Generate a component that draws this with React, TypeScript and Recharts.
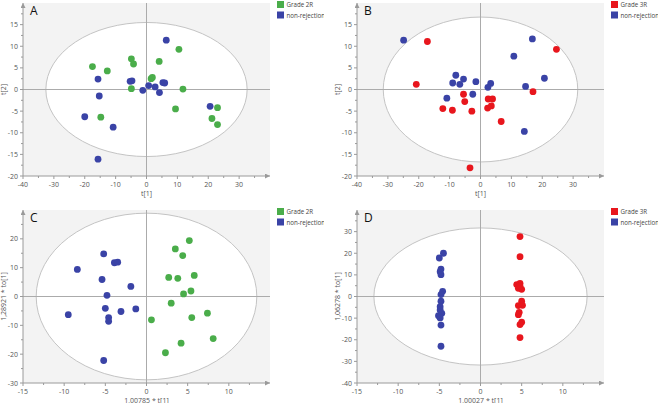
import { ScatterChart, Scatter, XAxis, YAxis, ReferenceArea, ReferenceLine } from "recharts";

const GREEN = "#4aad4a";
const BLUE = "#3a43a6";
const RED = "#e8161d";
const AXIS = "#9a9a9a";
const TICK_TEXT = "#555";
const FONT = "'Open Sans', 'Noto Sans', sans-serif";

// A: Grade 2R vs non-rejection (PCA scores)
const A_G2R_X = [-17.5, -12.7, -4.9, -4.2, 4.1, 10.5, 1.5, 1.9, -4.9, 11.8, 9.4, 23.0, 21.2, 23.0, -14.8];
const A_G2R_Y = [5.3, 4.3, 7.1, 5.9, 6.5, 9.3, 2.5, 2.8, 0.2, 0.1, -4.5, -4.2, -6.7, -8.1, -6.4];
const A_NR_X = [6.4, -15.7, -5.3, -4.7, -15.3, -20.0, -10.8, -15.7, -1.2, 0.7, 2.8, 4.2, 5.3, 5.9, 20.6];
const A_NR_Y = [11.4, 2.4, 1.9, 2.0, -1.5, -6.3, -8.7, -16.1, -0.2, 0.9, 0.6, -0.7, 1.6, 1.5, -3.9];

// B: Grade 3R vs non-rejection (PCA scores)
const B_G3R_X = [-17.2, 24.6, -20.8, 17.0, -5.5, -5.1, -12.2, -9.1, -2.8, 2.5, 3.9, 2.3, 3.5, 6.7, -3.4];
const B_G3R_Y = [11.1, 9.3, 1.2, -0.5, -1.1, -2.8, -4.4, -4.8, -5.0, -2.2, -2.2, -4.3, -3.8, -7.4, -18.1];
const B_NR_X = [-24.9, 16.8, 10.8, 20.7, 14.6, -8.0, -9.0, -5.5, -6.7, -1.5, 3.3, 2.4, -10.9, -2.5, 14.2];
const B_NR_Y = [11.4, 11.7, 7.7, 2.6, 0.7, 3.3, 1.5, 2.4, 1.2, 1.8, 1.4, 0.5, -2.0, -1.1, -9.7];

// C: Grade 2R vs non-rejection (OPLS-DA scores)
const C_G2R_X = [5.2, 3.5, 4.4, 2.7, 3.8, 5.8, 5.4, 4.5, 3.0, 0.6, 5.5, 7.4, 8.1, 4.2, 2.3];
const C_G2R_Y = [19.4, 16.5, 14.2, 6.6, 6.3, 7.3, 1.9, 0.9, -2.3, -8.1, -7.3, -5.8, -14.6, -16.2, -19.5];
const C_NR_X = [-5.2, -3.9, -3.5, -8.4, -5.4, -1.9, -4.8, -5.0, -3.1, -1.3, -9.5, -4.6, -4.6, -5.2];
const C_NR_Y = [14.8, 11.7, 11.9, 9.4, 5.9, 3.5, 0.4, -4.1, -5.2, -4.3, -6.3, -7.3, -8.6, -22.2];

// D: Grade 3R vs non-rejection (OPLS-DA scores)
const D_G3R_X = [4.8, 4.8, 4.4, 4.8, 4.6, 5.0, 5.0, 5.1, 4.6, 4.7, 4.6, 5.0, 4.8, 4.8, 4.8];
const D_G3R_Y = [27.7, 18.4, 5.5, 6.1, 3.8, 3.3, -2.2, -4.1, -4.2, -7.3, -8.4, -11.9, -13.0, -19.0, 4.8];
const D_NR_X = [-4.5, -5.0, -4.8, -4.9, -4.8, -4.6, -4.8, -4.8, -4.9, -4.7, -5.1, -4.9, -4.8, -4.8, -4.9];
const D_NR_Y = [20.0, 17.8, 12.7, 11.5, 10.1, 2.4, 0.9, -2.2, -4.7, -7.8, -8.9, -9.9, -13.2, -23.0, -6.2];

// ticks (major = labelled)
const T40_TICKS = [-40, -35, -30, -25, -20, -15, -10, -5, 0, 5, 10, 15, 20, 25, 30, 35];
const T40_MAJOR = [-40, -30, -20, -10, 0, 10, 20, 30];
const T20_TICKS = [-20, -17.5, -15, -12.5, -10, -7.5, -5, -2.5, 0, 2.5, 5, 7.5, 10, 12.5, 15, 17.5];
const T20_MAJOR = [-20, -15, -10, -5, 0, 5, 10, 15];
const T15_TICKS = [-15, -12.5, -10, -7.5, -5, -2.5, 0, 2.5, 5, 7.5, 10, 12.5];
const T15_MAJOR = [-15, -10, -5, 0, 5, 10];
const C_Y_TICKS = [-30, -25, -20, -15, -10, -5, 0, 5, 10, 15, 20, 25];
const C_Y_MAJOR = [-30, -20, -10, 0, 10, 20];
const D_Y_TICKS = [-40, -35, -30, -25, -20, -15, -10, -5, 0, 5, 10, 15, 20, 25, 30, 35];
const D_Y_MAJOR = [-40, -30, -20, -10, 0, 10, 20, 30];

const zip = (xs: number[], ys: number[]) => xs.map((x, i) => ({ x, y: ys[i] }));

const dot = (color: string) => (p: any) => <circle cx={p.cx} cy={p.cy} r={3.4} fill={color} />;

function XTick(props: any) {
  const { x, y, payload, majors } = props;
  const major = majors.includes(payload.value);
  return (
    <g>
      <line x1={x} x2={x} y1={y} y2={y + (major ? 3 : 2)} stroke={AXIS} />
      {major && (
        <text x={x} y={y + 10.5} textAnchor="middle" fontSize={7} fill={TICK_TEXT} fontFamily={FONT}>
          {payload.value}
        </text>
      )}
    </g>
  );
}

function YTick(props: any) {
  const { x, y, payload, majors } = props;
  const major = majors.includes(payload.value);
  return (
    <g>
      <line x1={x} x2={x - (major ? 3 : 2)} y1={y} y2={y} stroke={AXIS} />
      {major && (
        <text x={x - 5} y={y + 2.5} textAnchor="end" fontSize={7} fill={TICK_TEXT} fontFamily={FONT}>
          {payload.value}
        </text>
      )}
    </g>
  );
}

type Group = { name: string; color: string; xs: number[]; ys: number[] };

function Panel(props: {
  left: number;
  top: number;
  letter: string;
  xDomain: [number, number];
  yDomain: [number, number];
  xTicks: number[];
  xMajor: number[];
  yTicks: number[];
  yMajor: number[];
  ellipse: [number, number];
  xLabel: string;
  yLabel: string;
  groups: Group[];
}) {
  const { xDomain, yDomain, ellipse } = props;
  return (
    <div style={{ position: "absolute", left: props.left, top: props.top, width: 324, height: 200 }}>
      <ScatterChart width={275} height={200} margin={{ top: 3, right: 5, left: 0, bottom: 0 }}>
        <XAxis
          type="number"
          dataKey="x"
          domain={xDomain}
          allowDataOverflow
          ticks={props.xTicks}
          interval={0}
          tickSize={0}
          tickMargin={0}
          tickLine={false}
          height={24}
          axisLine={{ stroke: AXIS, markerEnd: "url(#axisArrow)" } as any}
          tick={<XTick majors={props.xMajor} />}
        />
        <YAxis
          type="number"
          dataKey="y"
          domain={yDomain}
          allowDataOverflow
          ticks={props.yTicks}
          interval={0}
          tickSize={0}
          tickMargin={0}
          tickLine={false}
          width={23}
          axisLine={{ stroke: AXIS, markerStart: "url(#axisArrow)" } as any}
          tick={<YTick majors={props.yMajor} />}
        />
        <ReferenceArea
          x1={xDomain[0]}
          x2={xDomain[1]}
          y1={yDomain[0]}
          y2={yDomain[1]}
          fill="#f3f3f3"
          fillOpacity={1}
          stroke="none"
        />
        <ReferenceArea
          x1={-ellipse[0]}
          x2={ellipse[0]}
          y1={-ellipse[1]}
          y2={ellipse[1]}
          shape={(p: any) => (
            <ellipse
              cx={p.x + p.width / 2}
              cy={p.y + p.height / 2}
              rx={p.width / 2}
              ry={p.height / 2}
              fill="#ffffff"
              stroke="#c4c4c4"
              strokeWidth={1}
            />
          )}
        />
        <ReferenceLine x={0} stroke="#ababab" strokeWidth={1} />
        <ReferenceLine y={0} stroke="#ababab" strokeWidth={1} />
        {props.groups.map((g) => (
          <Scatter
            key={g.name}
            name={g.name}
            data={zip(g.xs, g.ys)}
            fill={g.color}
            shape={dot(g.color)}
            isAnimationActive={false}
          />
        ))}
      </ScatterChart>
      <svg
        width={324}
        height={200}
        style={{ position: "absolute", left: 0, top: 0, pointerEvents: "none" }}
        fontFamily={FONT}
      >
        <text x={30} y={15} fontSize={12} fill="#111">
          {props.letter}
        </text>
        <text x={146.5} y={195.5} fontSize={7} fill={TICK_TEXT} textAnchor="middle">
          {props.xLabel}
        </text>
        <text
          x={0}
          y={0}
          fontSize={7}
          fill={TICK_TEXT}
          textAnchor="middle"
          transform={`translate(6 89.5) rotate(-90)`}
        >
          {props.yLabel}
        </text>
        {props.groups.map((g, i) => (
          <g key={g.name}>
            <rect x={277} y={1 + i * 10.5} width={7} height={7} fill={g.color} />
            <text x={286.5} y={7.2 + i * 10.5} fontSize={6.2} fill="#444">
              {g.name}
            </text>
          </g>
        ))}
      </svg>
    </div>
  );
}

export default function App() {
  return (
    <div
      style={{
        position: "absolute",
        left: 0,
        top: 0,
        width: 658,
        height: 403,
        background: "#fff",
        overflow: "hidden",
      }}
    >
      <svg width={0} height={0} style={{ position: "absolute" }}>
        <defs>
          <marker
            id="axisArrow"
            viewBox="0 0 10 10"
            refX={10}
            refY={5}
            markerWidth={8}
            markerHeight={5}
            markerUnits="userSpaceOnUse"
            orient="auto-start-reverse"
          >
            <path d="M0,0 L10,5 L0,10 z" fill={AXIS} />
          </marker>
        </defs>
      </svg>
      <Panel
        left={0}
        top={0}
        letter="A"
        xDomain={[-40, 40]}
        yDomain={[-20, 20]}
        xTicks={T40_TICKS}
        xMajor={T40_MAJOR}
        yTicks={T20_TICKS}
        yMajor={T20_MAJOR}
        ellipse={[32.6, 15.5]}
        xLabel="t[1]"
        yLabel="t[2]"
        groups={[
          { name: "Grade 2R", color: GREEN, xs: A_G2R_X, ys: A_G2R_Y },
          { name: "non-rejection", color: BLUE, xs: A_NR_X, ys: A_NR_Y },
        ]}
      />
      <Panel
        left={334}
        top={0}
        letter="B"
        xDomain={[-40, 40]}
        yDomain={[-20, 20]}
        xTicks={T40_TICKS}
        xMajor={T40_MAJOR}
        yTicks={T20_TICKS}
        yMajor={T20_MAJOR}
        ellipse={[31.5, 16.75]}
        xLabel="t[1]"
        yLabel="t[2]"
        groups={[
          { name: "Grade 3R", color: RED, xs: B_G3R_X, ys: B_G3R_Y },
          { name: "non-rejection", color: BLUE, xs: B_NR_X, ys: B_NR_Y },
        ]}
      />
      <Panel
        left={0}
        top={207}
        letter="C"
        xDomain={[-15, 15]}
        yDomain={[-30, 30]}
        xTicks={T15_TICKS}
        xMajor={T15_MAJOR}
        yTicks={C_Y_TICKS}
        yMajor={C_Y_MAJOR}
        ellipse={[13.4, 28.9]}
        xLabel="1,00785 * t[1]"
        yLabel="1,28921 * to[1]"
        groups={[
          { name: "Grade 2R", color: GREEN, xs: C_G2R_X, ys: C_G2R_Y },
          { name: "non-rejection", color: BLUE, xs: C_NR_X, ys: C_NR_Y },
        ]}
      />
      <Panel
        left={334}
        top={207}
        letter="D"
        xDomain={[-15, 15]}
        yDomain={[-40, 40]}
        xTicks={T15_TICKS}
        xMajor={T15_MAJOR}
        yTicks={D_Y_TICKS}
        yMajor={D_Y_MAJOR}
        ellipse={[12.95, 31.7]}
        xLabel="1,00027 * t[1]"
        yLabel="1,06278 * to[1]"
        groups={[
          { name: "Grade 3R", color: RED, xs: D_G3R_X, ys: D_G3R_Y },
          { name: "non-rejection", color: BLUE, xs: D_NR_X, ys: D_NR_Y },
        ]}
      />
    </div>
  );
}
